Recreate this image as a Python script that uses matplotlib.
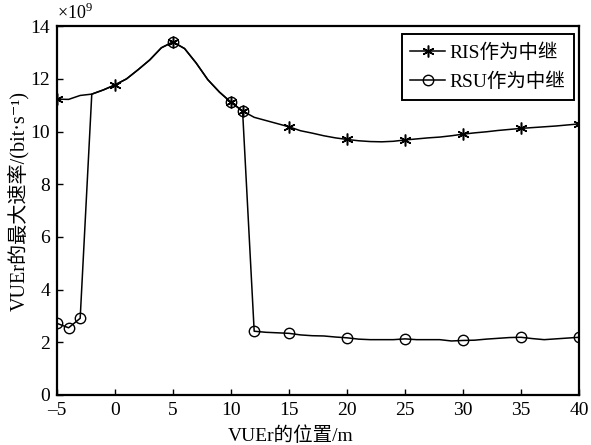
import matplotlib
matplotlib.use("Agg")
import matplotlib.pyplot as plt

plt.rcParams['font.family'] = ['Liberation Serif', 'Noto Sans CJK SC', 'DejaVu Serif']
plt.rcParams['mathtext.fontset'] = 'custom'
plt.rcParams['mathtext.rm'] = 'Liberation Serif'

# posicion del VUEr en m (curva, paso 1 m)
posicion = list(range(-5, 41))

# RIS como relevo, en unidades de 1e9 bit/s
tasa_ris = [11.23, 11.22, 11.37, 11.42, 11.58, 11.77, 12.0, 12.35, 12.72, 13.18,
            13.40, 13.15, 12.6, 11.97, 11.5, 11.11, 10.78, 10.54, 10.42, 10.3,
            10.18, 10.03, 9.94, 9.84, 9.76, 9.70, 9.65, 9.62, 9.61, 9.63,
            9.68, 9.72, 9.76, 9.79, 9.84, 9.90, 9.95, 9.99, 10.04, 10.08,
            10.12, 10.15, 10.18, 10.21, 10.25, 10.29]

# RSU como relevo
tasa_rsu = [2.72, 2.55, 2.91, 11.42, 11.58, 11.77, 12.0, 12.35, 12.72, 13.18,
            13.40, 13.15, 12.6, 11.97, 11.5, 11.11, 10.78, 2.42, 2.38, 2.36,
            2.34, 2.28, 2.25, 2.24, 2.2, 2.17, 2.12, 2.1, 2.1, 2.1,
            2.13, 2.1, 2.1, 2.1, 2.05, 2.07, 2.08, 2.12, 2.15, 2.18,
            2.19, 2.14, 2.1, 2.13, 2.16, 2.19]

marcas_ris = [-5, 0, 5, 10, 11, 15, 20, 25, 30, 35, 40]
marcas_rsu = [-5, -4, -3, 5, 10, 11, 12, 15, 20, 25, 30, 35, 40]

etiquetas = ["RIS作为中继", "RSU作为中继"]

fig = plt.figure(figsize=(5.91, 4.45), dpi=100)
ax = fig.add_axes([0.0964, 0.1124, 0.8833, 0.8288])

ax.plot(posicion, tasa_ris, color="black", lw=1.1, marker=(6, 2, 0), ms=8.5,
        mew=1.1, markevery=[posicion.index(p) for p in marcas_ris], label=etiquetas[0])
ax.plot(posicion, tasa_rsu, color="black", lw=1.1, marker="o", ms=7.5,
        mfc="none", mew=1.0, markevery=[posicion.index(p) for p in marcas_rsu],
        label=etiquetas[1])

ax.set_xlim(-5, 40)
ax.set_ylim(0, 14)
ax.set_xticks(range(-5, 41, 5))
ax.set_xticklabels(["\u20135"] + [str(v) for v in range(0, 41, 5)])
ax.set_yticks(range(0, 15, 2))
ax.tick_params(direction="in", labelsize=14, length=4, width=1, top=False, right=False)
ax.tick_params(axis="x", pad=5)
ax.tick_params(axis="y", pad=5)

for s in ax.spines.values():
    s.set_linewidth(1.6)

ax.text(0.0, 1.008, r"$\times$10$^{9}$", transform=ax.transAxes, fontsize=13,
        ha="left", va="bottom")

# las etiquetas de los ejes no estan centradas en el original
ax.set_xlabel("VUEr的位置/m", fontsize=14)
ax.xaxis.set_label_coords(0.448, -0.085)
ax.set_ylabel("VUEr的最大速率/(bit·s⁻¹)", fontsize=14.5)
ax.yaxis.set_label_coords(-0.053, 0.525)

leg = ax.legend(loc="upper right", bbox_to_anchor=(0.99, 0.978), fontsize=14,
                fancybox=False, framealpha=1, edgecolor="black", handlelength=1.8,
                borderaxespad=0.0, handletextpad=0.2, borderpad=0.45, labelspacing=0.55)
leg.get_frame().set_linewidth(1.4)

fig.savefig("out.png", dpi=100)
plt.close(fig)
